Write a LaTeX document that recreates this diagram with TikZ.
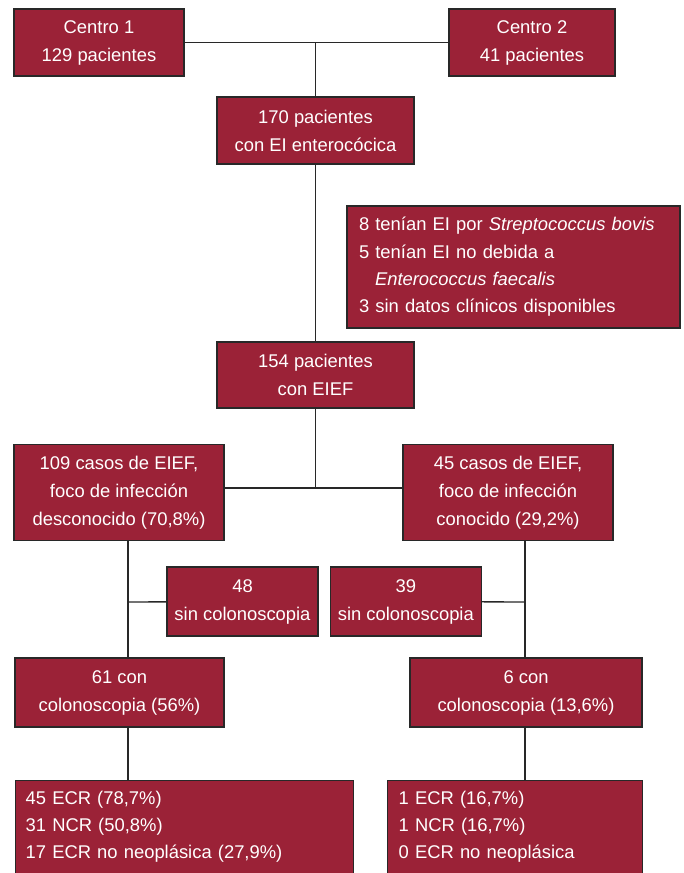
\documentclass[tikz,border=0pt]{standalone}
\usepackage{fontspec}
\setmainfont{Liberation Sans}
\usetikzlibrary{positioning}
\definecolor{boxred}{RGB}{155,34,55}
\definecolor{boxline}{RGB}{40,40,40}

\begin{document}
\begin{tikzpicture}[
  x=0.75pt, y=-0.75pt,
  node distance=8.25pt and 8.25pt,
  box/.style 2 args={draw=boxline,fill=boxred,text=white,line width=1pt,inner sep=0pt,align=center,
    minimum width=#1*0.75pt,minimum height=#2*0.75pt,font=\fontsize{13.8}{21}\selectfont},
  listbox/.style n args={3}{box={#1}{#2},align=left,text width=#3,font=\fontsize{13.8}{20.5}\selectfont},
  link/.style={draw=boxline,line width=1pt}
]
\path[use as bounding box,clip] (0,0) rectangle (684,873);

\node[box={170}{67}] (c1) at (99,42.5) {Centro 1\\129 pacientes};
\node[box={166}{67}] (c2) at (532,42.5) {Centro 2\\41 pacientes};
\node[box={197}{67}] (tot) at (315.5,130.5) {170 pacientes\\con EI enterocócica};
\node[listbox={333}{122}{231.75pt}] (excl) at (513.5,267)
  {8 tenían EI por \textit{Streptococcus bovis}\\
   5 tenían EI no debida a\\
   \hspace*{12pt}\textit{Enterococcus faecalis}\\
   3 sin datos clínicos disponibles};
\node[box={197}{66}] (ef) at (315.5,375) {154 pacientes\\con EIEF};
\node[box={210}{96}] (unk) at (119,492.5) {109 casos de EIEF,\\foco de infección\\desconocido (70,8\%)};
\node[box={210}{96}] (kno) at (508,492.5) {45 casos de EIEF,\\foco de infección\\conocido (29,2\%)};
\node[box={151}{69}] (sin1) at (242.5,601.5) {48\\sin colonoscopia};
\node[box={151}{69},right=of sin1] (sin2) {39\\sin colonoscopia};
\node[box={209}{69}] (col1) at (119.5,692.5) {61 con\\colonoscopia (56\%)};
\node[box={232}{69}] (col2) at (526,692.5) {6 con\\colonoscopia (13,6\%)};
\node[listbox={338}{110}{238.5pt},anchor=north west,text depth=57.4pt] (res1) at (15,780)
  {45 ECR (78,7\%)\\31 NCR (50,8\%)\\17 ECR no neoplásica (27,9\%)};
\node[listbox={255}{110}{174.75pt},anchor=north west,text depth=57.4pt] (res2) at (387,780)
  {1 ECR (16,7\%)\\1 NCR (16,7\%)\\0 ECR no neoplásica};

% junctions
\coordinate (jn) at (316,488);
\coordinate (sp1) at (128,602);
\coordinate (sp2) at (525,602);

\draw[link] (c1) -- (c2);
\draw[link] (tot) -- (tot |- c1);
\draw[link] (tot) -- (ef);
\draw[link] (ef) -- (ef |- jn);
\draw[link] (unk.east |- jn) -- (kno.west |- jn);
\draw[link] (unk.south -| sp1) -- (col1.north -| sp1);
\draw[link] (sp1) -- (sin1);
\draw[link] (kno.south -| sp2) -- (col2.north -| sp2);
\draw[link] (sp2) -- (sin2);
\draw[link] (col1.south -| sp1) -- (res1.north -| sp1);
\draw[link] (col2.south -| sp2) -- (res2.north -| sp2);

\end{tikzpicture}
\end{document}
